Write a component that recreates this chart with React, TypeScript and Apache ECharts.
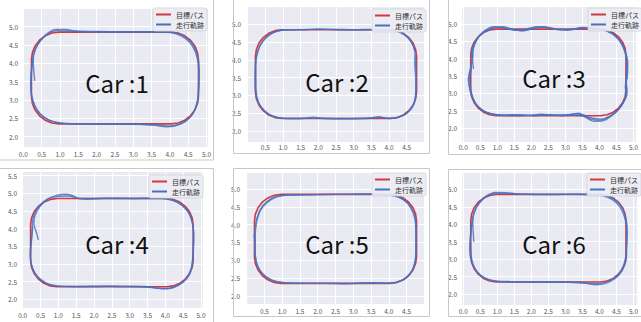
import React, { useEffect, useRef } from "react";
import * as echarts from "echarts";

type Pt = [number, number];

const TARGET_NAME = "目標パス";
const RUN_NAME = "走行軌跡";
const CAR_LABELS = ["Car :1", "Car :2", "Car :3", "Car :4", "Car :5", "Car :6"];

// tick labels shown on the axes
const X_TICKS_FULL = [0.0, 0.5, 1.0, 1.5, 2.0, 2.5, 3.0, 3.5, 4.0, 4.5, 5.0];
const X_TICKS_INNER = [0.5, 1.0, 1.5, 2.0, 2.5, 3.0, 3.5, 4.0, 4.5];
const Y_TICKS = [2.0, 2.5, 3.0, 3.5, 4.0, 4.5, 5.0];
const Y_TICKS_TALL = [2.0, 2.5, 3.0, 3.5, 4.0, 4.5, 5.0, 5.5];

// target path (rounded rectangle)
const TARGET_PATH: Pt[] = [
  [0.22, 3.1], [0.22, 4.1], [0.246, 4.294], [0.32, 4.475], [0.44, 4.63], [0.595, 4.75], [0.776, 4.824], [0.97, 4.85],
  [4.03, 4.85], [4.224, 4.824], [4.405, 4.75], [4.56, 4.63], [4.68, 4.475], [4.754, 4.294], [4.78, 4.1],
  [4.78, 3.1], [4.754, 2.906], [4.68, 2.725], [4.56, 2.57], [4.405, 2.45], [4.224, 2.376], [4.03, 2.35],
  [0.97, 2.35], [0.776, 2.376], [0.595, 2.45], [0.44, 2.57], [0.32, 2.725], [0.246, 2.906], [0.22, 3.1],
];

const CAR1_LAPS: Pt[][] = [
  [[0.31,3.52],[0.28,3.85],[0.27,4.12],[0.33,4.38],[0.46,4.62],[0.66,4.82],[0.90,4.92],[1.15,4.92],[1.45,4.88],[1.90,4.87],[2.60,4.86],[3.30,4.86],[3.90,4.86],[4.20,4.82],[4.45,4.70],[4.64,4.48],[4.76,4.18],[4.80,3.80],[4.79,3.30],[4.74,2.92],[4.62,2.62],[4.42,2.42],[4.15,2.30],[3.90,2.27],[3.60,2.31],[3.20,2.34],[2.50,2.35],[1.80,2.35],[1.20,2.36],[0.85,2.40],[0.58,2.52],[0.38,2.72],[0.26,2.98],[0.21,3.30],[0.22,3.70],[0.24,4.05]],
  [[0.24,4.05],[0.30,4.33],[0.44,4.58],[0.64,4.78],[0.92,4.89],[1.25,4.88],[1.70,4.86],[2.40,4.85],[3.10,4.86],[3.80,4.85],[4.15,4.81],[4.42,4.68],[4.62,4.46],[4.74,4.16],[4.79,3.80],[4.78,3.35],[4.75,2.95],[4.64,2.64],[4.45,2.44],[4.20,2.32],[3.95,2.29],[3.55,2.33],[2.90,2.34],[2.20,2.34],[1.50,2.35],[1.00,2.37],[0.70,2.45],[0.46,2.62],[0.30,2.86],[0.22,3.15],[0.20,3.50],[0.23,3.90],[0.27,4.15]],
];

const CAR2_LAPS: Pt[][] = [
  [[4.74,4.22],[4.73,3.90],[4.76,3.40],[4.75,3.00],[4.68,2.72],[4.50,2.50],[4.25,2.38],[4.00,2.35],[3.70,2.40],[3.45,2.36],[3.00,2.35],[2.50,2.35],[2.10,2.36],[1.85,2.39],[1.60,2.36],[1.20,2.35],[0.90,2.37],[0.62,2.46],[0.42,2.62],[0.28,2.85],[0.22,3.15],[0.21,3.50],[0.22,3.85],[0.26,4.15],[0.36,4.43],[0.55,4.66],[0.80,4.80],[1.10,4.85],[1.60,4.85],[2.00,4.87],[2.30,4.86],[2.80,4.85],[3.40,4.85],[3.90,4.85],[4.20,4.82],[4.45,4.70],[4.63,4.50],[4.73,4.25],[4.76,3.95],[4.77,3.50]],
  [[4.77,3.50],[4.76,3.05],[4.70,2.74],[4.52,2.51],[4.28,2.39],[4.05,2.36],[3.75,2.38],[3.20,2.35],[2.60,2.34],[2.00,2.36],[1.40,2.35],[1.00,2.36],[0.70,2.42],[0.47,2.58],[0.31,2.80],[0.24,3.10],[0.23,3.50],[0.23,3.90],[0.27,4.18],[0.38,4.45],[0.57,4.67],[0.83,4.81],[1.20,4.85],[1.80,4.86],[2.40,4.86],[3.00,4.85],[3.60,4.86],[4.00,4.84],[4.30,4.79],[4.52,4.65],[4.68,4.42],[4.74,4.22]],
];

const CAR3_LAPS: Pt[][] = [
  [[0.30,3.70],[0.27,4.05],[0.30,4.30],[0.42,4.58],[0.62,4.80],[0.90,4.92],[1.20,4.88],[1.50,4.82],[1.80,4.84],[2.15,4.92],[2.50,4.88],[2.85,4.83],[3.20,4.85],[3.50,4.90],[3.90,4.86],[4.20,4.80],[4.45,4.66],[4.64,4.44],[4.76,4.15],[4.80,3.80],[4.78,3.40],[4.80,3.10],[4.74,2.82],[4.58,2.55],[4.35,2.34],[4.10,2.20],[3.85,2.19],[3.60,2.30],[3.40,2.42],[3.10,2.38],[2.70,2.36],[2.30,2.39],[1.90,2.36],[1.50,2.38],[1.10,2.37],[0.75,2.42],[0.50,2.55],[0.32,2.76],[0.22,3.00],[0.17,3.30],[0.20,3.60],[0.26,3.95]],
  [[0.26,3.95],[0.24,4.20],[0.33,4.45],[0.50,4.68],[0.75,4.84],[1.05,4.90],[1.35,4.86],[1.70,4.81],[2.05,4.86],[2.35,4.92],[2.70,4.86],[3.05,4.82],[3.40,4.87],[3.75,4.88],[4.10,4.84],[4.38,4.72],[4.60,4.52],[4.74,4.25],[4.83,3.90],[4.82,3.50],[4.76,3.20],[4.78,2.95],[4.68,2.70],[4.50,2.48],[4.25,2.30],[4.00,2.22],[3.75,2.25],[3.52,2.38],[3.30,2.40],[2.90,2.35],[2.50,2.38],[2.10,2.35],[1.70,2.37],[1.30,2.36],[0.95,2.38],[0.65,2.46],[0.42,2.62],[0.27,2.88],[0.19,3.15],[0.15,3.40],[0.22,3.75],[0.28,4.05]],
  [[0.28,4.05],[0.28,4.28],[0.38,4.52],[0.56,4.74],[0.82,4.87],[1.15,4.92],[1.45,4.85],[1.75,4.80],[2.10,4.89],[2.40,4.90],[2.80,4.84],[3.15,4.84],[3.50,4.89],[3.95,4.87],[4.25,4.80],[4.50,4.64],[4.68,4.40],[4.78,4.10],[4.82,3.70],[4.79,3.30],[4.81,3.00],[4.72,2.76],[4.55,2.52],[4.30,2.33],[4.05,2.25],[3.80,2.28],[3.55,2.33],[3.30,2.36],[2.80,2.37],[2.20,2.37],[1.60,2.35],[1.00,2.37],[0.70,2.44],[0.45,2.60],[0.30,2.82],[0.22,3.10],[0.20,3.45],[0.24,3.75]],
];

const CAR4_LAPS: Pt[][] = [
  [[0.44,3.68],[0.38,3.90],[0.31,4.15],[0.35,4.38],[0.48,4.62],[0.68,4.82],[0.95,4.94],[1.20,4.97],[1.40,4.93],[1.60,4.84],[1.80,4.83],[2.30,4.85],[3.00,4.85],[3.70,4.86],[4.10,4.83],[4.40,4.72],[4.62,4.50],[4.75,4.20],[4.79,3.85],[4.78,3.40],[4.76,3.00],[4.68,2.70],[4.50,2.48],[4.22,2.33],[3.95,2.29],[3.65,2.33],[3.20,2.36],[2.60,2.37],[2.00,2.36],[1.40,2.36],[0.95,2.37],[0.65,2.45],[0.42,2.62],[0.28,2.86],[0.22,3.15],[0.23,3.50],[0.26,3.90],[0.27,4.15]],
  [[0.27,4.15],[0.32,4.40],[0.46,4.64],[0.70,4.84],[1.00,4.91],[1.30,4.92],[1.55,4.86],[1.90,4.85],[2.50,4.86],[3.20,4.85],[3.90,4.85],[4.20,4.80],[4.46,4.66],[4.66,4.44],[4.77,4.12],[4.80,3.70],[4.77,3.20],[4.72,2.85],[4.58,2.58],[4.35,2.39],[4.05,2.30],[3.80,2.31],[3.40,2.36],[2.80,2.36],[2.20,2.37],[1.60,2.36],[1.10,2.37],[0.75,2.42],[0.50,2.56],[0.33,2.76],[0.24,3.00],[0.21,3.30],[0.25,3.70],[0.28,4.05]],
];

const CAR5_LAPS: Pt[][] = [
  [[0.21,3.62],[0.24,3.90],[0.28,4.15],[0.38,4.42],[0.56,4.64],[0.82,4.79],[1.10,4.83],[1.60,4.84],[2.20,4.85],[2.80,4.85],[3.30,4.86],[3.90,4.84],[4.20,4.80],[4.45,4.68],[4.63,4.48],[4.74,4.20],[4.77,3.85],[4.77,3.40],[4.75,3.00],[4.67,2.72],[4.50,2.51],[4.26,2.39],[4.00,2.35],[3.60,2.37],[3.00,2.35],[2.40,2.35],[1.80,2.35],[1.20,2.36],[0.85,2.39],[0.58,2.50],[0.40,2.68],[0.28,2.92],[0.24,3.20],[0.24,3.50],[0.25,3.85],[0.29,4.12]],
  [[0.29,4.12],[0.39,4.40],[0.58,4.62],[0.85,4.78],[1.20,4.83],[1.80,4.84],[2.50,4.85],[3.20,4.85],[3.80,4.85],[4.15,4.81],[4.42,4.69],[4.62,4.47],[4.73,4.18],[4.76,3.80],[4.76,3.30],[4.74,2.98],[4.65,2.70],[4.47,2.50],[4.22,2.38],[3.90,2.35],[3.40,2.36],[2.80,2.34],[2.20,2.35],[1.60,2.35],[1.05,2.37],[0.72,2.44],[0.48,2.59],[0.32,2.80],[0.25,3.08],[0.23,3.40],[0.23,3.65]],
];

const CAR6_LAPS: Pt[][] = [
  [[0.31,3.50],[0.29,3.80],[0.28,4.12],[0.34,4.38],[0.47,4.62],[0.68,4.81],[0.95,4.91],[1.25,4.90],[1.60,4.87],[2.20,4.86],[2.90,4.86],[3.50,4.86],[3.95,4.85],[4.25,4.80],[4.50,4.67],[4.68,4.45],[4.78,4.15],[4.82,3.80],[4.80,3.30],[4.78,2.95],[4.66,2.66],[4.46,2.45],[4.18,2.31],[3.90,2.27],[3.60,2.31],[3.10,2.34],[2.40,2.35],[1.70,2.35],[1.10,2.36],[0.78,2.40],[0.52,2.52],[0.34,2.72],[0.23,2.98],[0.19,3.28],[0.21,3.65],[0.25,4.05]],
  [[0.25,4.05],[0.31,4.32],[0.45,4.58],[0.66,4.78],[0.92,4.88],[1.30,4.88],[1.90,4.86],[2.60,4.85],[3.30,4.86],[3.90,4.84],[4.22,4.78],[4.47,4.64],[4.65,4.42],[4.76,4.12],[4.80,3.75],[4.79,3.35],[4.76,2.98],[4.64,2.68],[4.44,2.47],[4.15,2.33],[3.85,2.30],[3.45,2.34],[2.80,2.35],[2.10,2.35],[1.40,2.36],[0.95,2.38],[0.65,2.46],[0.42,2.63],[0.28,2.88],[0.22,3.20],[0.21,3.55],[0.24,3.90],[0.28,4.15]],
];

const CAR_LAPS = [CAR1_LAPS, CAR2_LAPS, CAR3_LAPS, CAR4_LAPS, CAR5_LAPS, CAR6_LAPS];

const RED = "#d0393f";
const BLUE = "#4a71c0";
const BG = "#EAEAF2";
const FONT = "Noto Sans CJK JP";

interface Panel {
  grid: [number, number, number, number];
  x: [number, number];
  y: [number, number];
  xTicks: number[];
  yTicks: number[];
  xMargin: number;
  yMargin: number;
  legend: [number, number];
  text: [number, number];
  frame: [number, number, number, number];
}

const PANELS: Panel[] = [
  { grid: [23, 9, 185, 138], x: [-0.01, 5.04], y: [1.72, 5.48], xTicks: X_TICKS_FULL, yTicks: Y_TICKS, xMargin: 4, yMargin: 5, legend: [153, 8], text: [117, 82], frame: [-1.5, -1.5, 215, 161.5] },
  { grid: [248, 7, 176, 135], x: [0.01, 4.99], y: [1.69, 5.49], xTicks: X_TICKS_INNER, yTicks: Y_TICKS, xMargin: 2, yMargin: 7, legend: [372, 9], text: [337, 81], frame: [233.5, -1.5, 196, 155] },
  { grid: [462, 7, 180, 135], x: [-0.037, 5.077], y: [1.59, 5.49], xTicks: X_TICKS_FULL, yTicks: Y_TICKS, xMargin: 2, yMargin: 5, legend: [588, 8], text: [554, 77], frame: [448.5, -1.5, 200, 156] },
  { grid: [22, 172, 181, 136], x: [-0.02, 5.056], y: [1.75, 5.6], xTicks: X_TICKS_FULL, yTicks: Y_TICKS_TALL, xMargin: 3.5, yMargin: 5, legend: [149, 175], text: [117, 243], frame: [-1.5, 168.5, 215, 160] },
  { grid: [247, 173, 177, 131], x: [0.01, 4.99], y: [1.77, 5.45], xTicks: X_TICKS_INNER, yTicks: Y_TICKS, xMargin: 4, yMargin: 7, legend: [372, 173], text: [337, 243], frame: [233.5, 168.5, 196, 148] },
  { grid: [462, 173, 180, 132], x: [-0.037, 5.11], y: [1.69, 5.466], xTicks: X_TICKS_FULL, yTicks: Y_TICKS, xMargin: 3, yMargin: 5, legend: [587, 173], text: [554, 243], frame: [448.5, 169.5, 200, 147] },
];

function tickFormatter(ticks: number[]) {
  return (v: number) => (ticks.some((t) => Math.abs(t - v) < 1e-6) ? v.toFixed(1) : "");
}

function buildOption() {
  const grid = PANELS.map((p) => ({
    left: p.grid[0], top: p.grid[1], width: p.grid[2], height: p.grid[3],
    show: true, backgroundColor: BG, borderWidth: 0,
  }));
  const labelStyle = { fontSize: 6.5, color: "#555", fontFamily: FONT };
  const splitLine = { show: true, showMinLine: false, showMaxLine: false, lineStyle: { color: "#ffffff", width: 1 } };
  const xAxis = PANELS.map((p, i) => ({
    type: "value", gridIndex: i, min: p.x[0], max: p.x[1], splitNumber: 10,
    axisLine: { show: false },
    axisTick: { show: false },
    axisLabel: { ...labelStyle, margin: p.xMargin, formatter: tickFormatter(p.xTicks) },
    splitLine,
  }));
  const yAxis = PANELS.map((p, i) => ({
    type: "value", gridIndex: i, min: p.y[0], max: p.y[1], splitNumber: 8,
    axisLine: { show: false },
    axisTick: { show: false },
    axisLabel: { ...labelStyle, margin: p.yMargin, formatter: tickFormatter(p.yTicks) },
    splitLine,
  }));
  const series: any[] = [];
  PANELS.forEach((_, i) => {
    series.push({
      type: "line", name: TARGET_NAME, xAxisIndex: i, yAxisIndex: i, data: TARGET_PATH,
      symbol: "none", showSymbol: false, lineStyle: { color: RED, width: 1.6 }, itemStyle: { color: RED }, z: 2,
    });
    CAR_LAPS[i].forEach((lap) => {
      series.push({
        type: "line", name: RUN_NAME, xAxisIndex: i, yAxisIndex: i, data: lap, smooth: 0.3,
        symbol: "none", showSymbol: false, lineStyle: { color: BLUE, width: 1.4, opacity: 0.85 }, itemStyle: { color: BLUE }, z: 3,
      });
    });
  });
  const legend = PANELS.map((p) => ({
    left: p.legend[0], top: p.legend[1], orient: "vertical",
    data: [TARGET_NAME, RUN_NAME], icon: "rect", itemWidth: 15, itemHeight: 2, itemGap: 1,
    padding: [2, 3, 2, 3], backgroundColor: "rgba(236,236,243,0.9)", borderColor: "#d2d2da", borderWidth: 0.8, borderRadius: 2,
    textStyle: { fontSize: 7, color: "#333", fontFamily: FONT, lineHeight: 9 },
    selectedMode: false,
  }));
  const graphic: any[] = [];
  PANELS.forEach((p, i) => {
    graphic.push({
      type: "rect", silent: true, z: 1,
      shape: { x: p.frame[0], y: p.frame[1], width: p.frame[2], height: p.frame[3] },
      style: { fill: "none", stroke: "#c8c8c8", lineWidth: 1 },
    });
    graphic.push({
      type: "text", silent: true, z: 50, x: p.text[0], y: p.text[1],
      style: { text: CAR_LABELS[i], fontSize: 24, fontFamily: FONT, fill: "#111", textAlign: "center", textVerticalAlign: "middle", verticalAlign: "middle" },
    });
  });
  return { animation: false, backgroundColor: "#ffffff", grid, xAxis, yAxis, series, legend, graphic };
}

export default function App() {
  const ref = useRef<HTMLDivElement>(null);
  useEffect(() => {
    if (!ref.current) return;
    const chart = echarts.init(ref.current, undefined, { renderer: "svg" });
    chart.setOption(buildOption() as any);
    return () => chart.dispose();
  }, []);
  return <div ref={ref} style={{ position: "fixed", left: 0, top: 0, width: 641, height: 322 }} />;
}
